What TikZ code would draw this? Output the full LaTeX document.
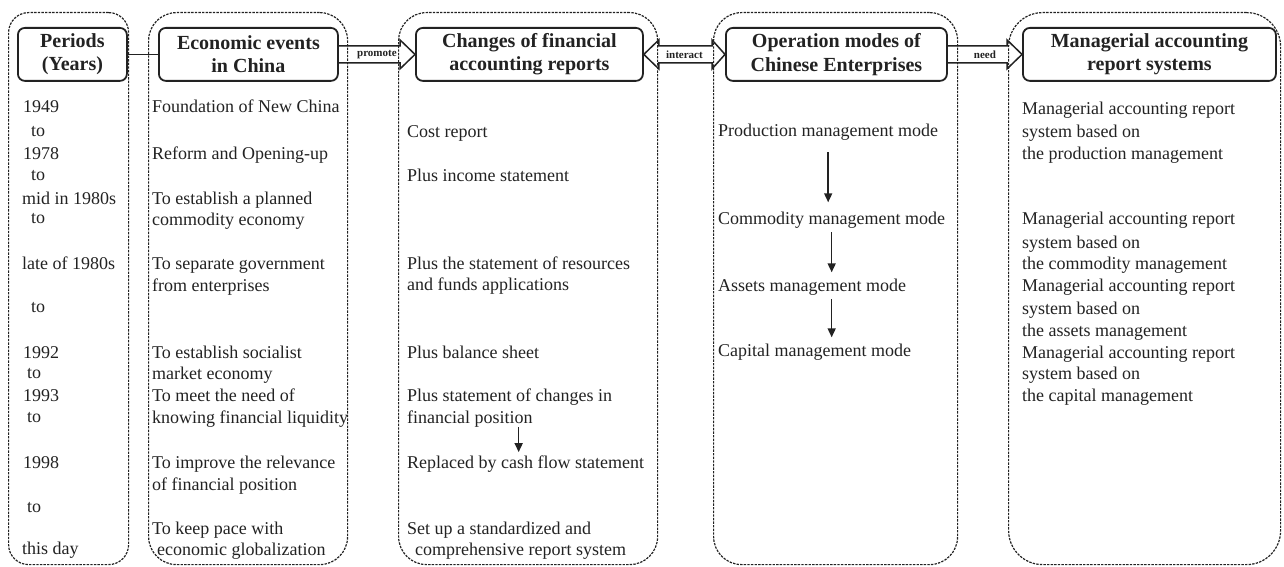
\documentclass[tikz,border=0pt]{standalone}
\usepackage{fontspec}
\setmainfont{Liberation Serif}
\usetikzlibrary{arrows.meta,calc}
\definecolor{ink}{HTML}{222222}
\tikzset{
  colbox/.style={draw=ink, dash pattern=on 2.4pt off 1.2pt, line width=1.2pt, rounded corners=28pt, inner sep=0pt, anchor=north west},
  hdr/.style={draw=ink, line width=1.8pt, rounded corners=7pt, inner sep=0pt, anchor=north west, align=center, text=ink, font=\bfseries\fontsize{20}{23.5}\selectfont},
  txt/.style={anchor=base west, inner sep=0pt, text=ink, font=\fontsize{18}{21.5}\selectfont},
  lbl/.style={inner sep=0pt, text=ink, font=\bfseries\fontsize{11}{12}\selectfont},
  blk/.style={draw=ink, line width=1.5pt, line join=miter},
  arr/.style={draw=ink, line width=1.6pt, -{Triangle[length=9pt,width=8pt]}},
  conn/.style={draw=ink, line width=1.6pt}
}
\begin{document}
\begin{tikzpicture}[x=1pt,y=-1pt]
\useasboundingbox (0,0) rectangle (1284,567);
% column frames
\node[colbox, rounded corners=20pt, minimum width=120pt, minimum height=552pt] (c1) at (8,12) {};
\node[colbox, minimum width=199pt, minimum height=552pt] (c2) at (148,12) {};
\node[colbox, minimum width=259pt, minimum height=552pt] (c3) at (398,12) {};
\node[colbox, minimum width=244pt, minimum height=552pt] (c4) at (713,12) {};
\node[colbox, rounded corners=34pt, minimum width=272pt, minimum height=552pt] (c5) at (1008,12) {};
% headers
\node[hdr, minimum width=109pt, minimum height=53pt] (h1) at (17,27) {Periods\\(Years)};
\node[hdr, minimum width=179pt, minimum height=53pt] (h2) at (158,27) {Economic events\\in China};
\node[hdr, minimum width=227pt, minimum height=53pt] (h3) at (415,27) {Changes of financial\\accounting reports};
\node[hdr, minimum width=221pt, minimum height=53pt] (h4) at (725,27) {Operation modes of\\Chinese Enterprises};
\node[hdr, minimum width=253pt, minimum height=53pt] (h5) at (1022,27) {Managerial accounting\\report systems};
% connectors between headers
\draw[conn] (h1.east) -- (h2.west);
\draw[blk] ([yshift=8.5pt]h2.east) -- ([xshift=-15pt,yshift=8.5pt]h3.west) -- ([xshift=-15pt,yshift=14.5pt]h3.west) -- (h3.west) -- ([xshift=-15pt,yshift=-14.5pt]h3.west) -- ([xshift=-15pt,yshift=-8.5pt]h3.west) -- ([yshift=-8.5pt]h2.east);
\node[lbl] (pl) at ($(h2.east)!0.5!(h3.west)$) {promote};
\draw[blk] ([xshift=15pt,yshift=8.5pt]h3.east) -- ([xshift=-13pt,yshift=8.5pt]h4.west) -- ([xshift=-13pt,yshift=14.5pt]h4.west) -- (h4.west) -- ([xshift=-13pt,yshift=-14.5pt]h4.west) -- ([xshift=-13pt,yshift=-8.5pt]h4.west) -- ([xshift=15pt,yshift=-8.5pt]h3.east) -- ([xshift=15pt,yshift=-14.5pt]h3.east) -- (h3.east) -- ([xshift=15pt,yshift=14.5pt]h3.east) -- cycle;
\node[lbl] (il) at ($(h3.east)!0.5!(h4.west)$) {interact};
\draw[blk] ([yshift=8.5pt]h4.east) -- ([xshift=-15pt,yshift=8.5pt]h5.west) -- ([xshift=-15pt,yshift=14.5pt]h5.west) -- (h5.west) -- ([xshift=-15pt,yshift=-14.5pt]h5.west) -- ([xshift=-15pt,yshift=-8.5pt]h5.west) -- ([yshift=-8.5pt]h4.east);
\node[lbl] (nl) at ($(h4.east)!0.5!(h5.west)$) {need};
% column 1: periods
\node[txt] (y1) at (23,113) {1949};
\node[txt] (y2) at (31,136) {to};
\node[txt] (y3) at (23,159) {1978};
\node[txt] (y4) at (31,180) {to};
\node[txt] (y5) at (22,204) {mid in 1980s};
\node[txt] (y6) at (31,223) {to};
\node[txt] (y7) at (22,269) {late of 1980s};
\node[txt] (y8) at (31,312) {to};
\node[txt] (y9) at (23,358) {1992};
\node[txt] (y10) at (27,378) {to};
\node[txt] (y11) at (23,401) {1993};
\node[txt] (y12) at (27,422) {to};
\node[txt] (y13) at (23,468) {1998};
\node[txt] (y14) at (27,512) {to};
\node[txt] (y15) at (22,554) {this day};
% column 2: events
\node[txt] (e1) at (152,113) {Foundation of New China};
\node[txt] (e2) at (152,159) {Reform and Opening-up};
\node[txt] (e3) at (152,204) {To establish a planned};
\node[txt] (e4) at (152,225) {commodity economy};
\node[txt] (e5) at (152,269) {To separate government};
\node[txt] (e6) at (152,291) {from enterprises};
\node[txt] (e7) at (152,358) {To establish socialist};
\node[txt] (e8) at (152,379) {market economy};
\node[txt] (e9) at (152,401) {To meet the need of};
\node[txt] (e10) at (152,423) {knowing financial liquidity};
\node[txt] (e11) at (152,468) {To improve the relevance};
\node[txt] (e12) at (152,490) {of financial position};
\node[txt] (e13) at (152,534) {To keep pace with};
\node[txt] (e14) at (157,555) {economic globalization};
% column 3: reports
\node[txt] (r1) at (407,138) {Cost report};
\node[txt] (r2) at (407,181) {Plus income statement};
\node[txt] (r3) at (407,269) {Plus the statement of resources};
\node[txt] (r4) at (407,290) {and funds applications};
\node[txt] (r5) at (407,358) {Plus balance sheet};
\node[txt] (r6) at (407,401) {Plus statement of changes in};
\node[txt] (r7) at (407,423) {financial position};
\node[txt] (r8) at (407,468) {Replaced by cash flow statement};
\node[txt] (r9) at (407,534) {Set up a standardized and};
\node[txt] (r10) at (415,555) {comprehensive report system};
\draw[arr] ([xshift=-7pt,yshift=28pt]r8.north) -- ([xshift=-7pt,yshift=3pt]r8.north);
% column 4: modes
\node[txt] (m1) at (718,136) {Production management mode};
\node[txt] (m2) at (718,224) {Commodity management mode};
\node[txt] (m3) at (718,291) {Assets management mode};
\node[txt] (m4) at (718,356) {Capital management mode};
\draw[arr] ([yshift=-12pt]m1.south) -- ([yshift=9pt]m1.south |- m2.north);
\draw[arr] ([yshift=-4pt]m2.south) -- ([yshift=6pt]m2.south |- m3.north);
\draw[arr] ([yshift=-4pt]m2.south |- m3.south) -- ([yshift=6pt]m2.south |- m4.north);
% column 5: systems
\node[txt] (s1) at (1022,114) {Managerial accounting report};
\node[txt] (s2) at (1022,138) {system based on};
\node[txt] (s3) at (1022,159) {the production management};
\node[txt] (s4) at (1022,224) {Managerial accounting report};
\node[txt] (s5) at (1022,248) {system based on};
\node[txt] (s6) at (1022,269) {the commodity management};
\node[txt] (s7) at (1022,291) {Managerial accounting report};
\node[txt] (s8) at (1022,314) {system based on};
\node[txt] (s9) at (1022,336) {the assets management};
\node[txt] (s10) at (1022,358) {Managerial accounting report};
\node[txt] (s11) at (1022,379) {system based on};
\node[txt] (s12) at (1022,401) {the capital management};
\end{tikzpicture}
\end{document}
